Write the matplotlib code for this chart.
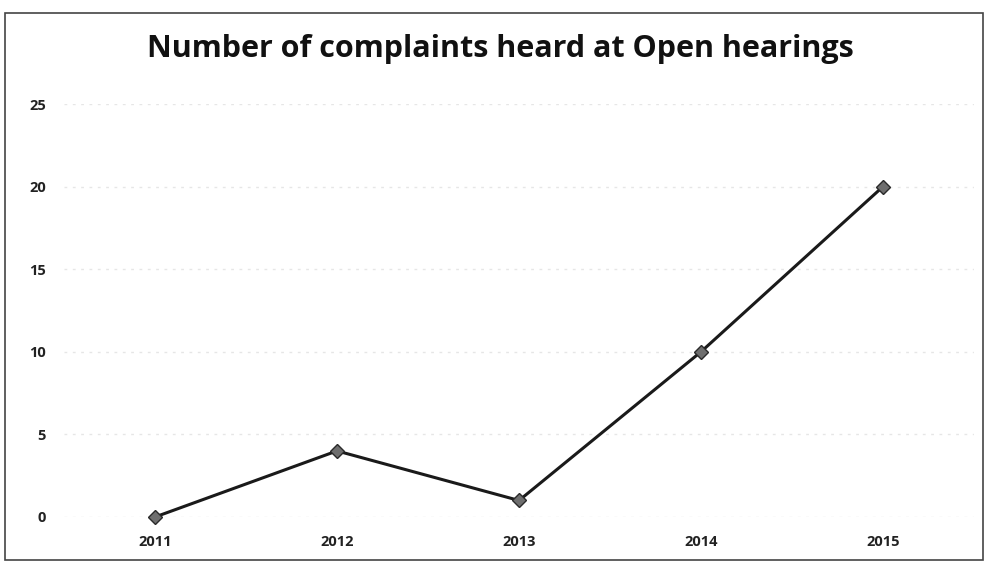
import matplotlib.pyplot as plt
from matplotlib.patches import Rectangle

years = ["2011", "2012", "2013", "2014", "2015"]
complaints = [0, 4, 1, 10, 20]
y_ticks = [0, 5, 10, 15, 20, 25]

fig = plt.figure(figsize=(9.89, 5.67), dpi=100)
fig.patch.set_facecolor("white")

# chart border
fig.add_artist(Rectangle((5 / 989, 7 / 567), 978 / 989, 547 / 567,
                         transform=fig.transFigure, fill=False,
                         edgecolor="#444444", linewidth=1.2))

ax = fig.add_axes([64 / 989, 50 / 567, 910 / 989, 413 / 567])
x = range(len(years))
ax.plot(x, complaints, color="#1a1a1a", linewidth=2.2,
        marker="D", markersize=7, markerfacecolor="#6e6e6e",
        markeredgecolor="#2a2a2a", clip_on=False, zorder=3)

ax.set_xlim(-0.5, len(years) - 0.5)
ax.set_ylim(0, 25)
ax.set_yticks(y_ticks)
ax.set_xticks(list(x))
ax.set_xticklabels(years)
ax.grid(axis="y", color="#e6e6e6", linestyle=(0, (2, 4)), linewidth=1)
ax.set_axisbelow(True)
for s in ax.spines.values():
    s.set_visible(False)
ax.tick_params(length=0, labelsize=10.5, colors="#222222")
ax.tick_params(axis="y", pad=13)
ax.tick_params(axis="x", pad=13)
for lbl in ax.get_xticklabels() + ax.get_yticklabels():
    lbl.set_fontfamily("Open Sans")
    lbl.set_fontweight("bold")

fig.text(0.506, 0.913, "Number of complaints heard at Open hearings",
         ha="center", va="center", fontsize=22, fontweight="bold",
         family="Open Sans", color="#111111")

fig.savefig("out.png", dpi=100)
